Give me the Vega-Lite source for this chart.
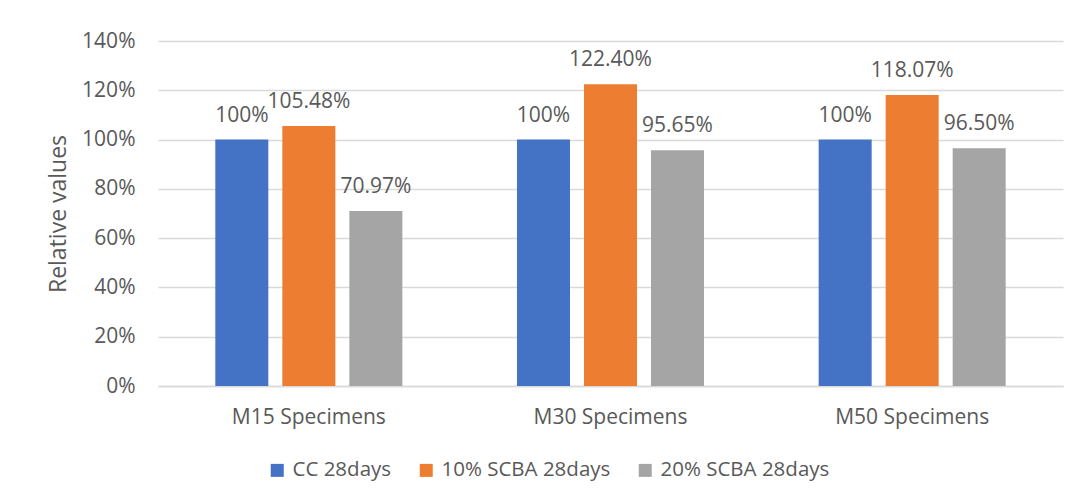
{
  "$schema": "https://vega.github.io/schema/vega-lite/v6.json",
  "width": 905,
  "height": 345,
  "autosize": {"type": "none"},
  "padding": {"left": 158, "top": 41, "right": 18, "bottom": 115},
  "background": "white",
  "config": {
    "font": "Open Sans",
    "view": {"stroke": null},
    "axis": {"labelFont": "Open Sans", "titleFont": "Open Sans", "labelColor": "#595959", "titleColor": "#595959", "labelFontSize": 21, "titleFontSize": 23, "titleFontWeight": "normal"},
    "legend": {"labelFont": "Open Sans", "labelFontSize": 20.5, "labelColor": "#595959", "labelLimit": 0}
  },
  "data": {
    "values": [
      {"group": "M15 Specimens", "series": "CC 28days", "value": 1.0, "label": "100%"},
      {"group": "M15 Specimens", "series": "10% SCBA 28days", "value": 1.0548, "label": "105.48%"},
      {"group": "M15 Specimens", "series": "20% SCBA 28days", "value": 0.7097, "label": "70.97%"},
      {"group": "M30 Specimens", "series": "CC 28days", "value": 1.0, "label": "100%"},
      {"group": "M30 Specimens", "series": "10% SCBA 28days", "value": 1.224, "label": "122.40%"},
      {"group": "M30 Specimens", "series": "20% SCBA 28days", "value": 0.9565, "label": "95.65%"},
      {"group": "M50 Specimens", "series": "CC 28days", "value": 1.0, "label": "100%"},
      {"group": "M50 Specimens", "series": "10% SCBA 28days", "value": 1.1807, "label": "118.07%"},
      {"group": "M50 Specimens", "series": "20% SCBA 28days", "value": 0.965, "label": "96.50%"}
    ]
  },
  "encoding": {
    "x": {
      "field": "group", "type": "nominal",
      "scale": {"paddingInner": 0.38, "paddingOuter": 0.19},
      "axis": {"title": null, "labelAngle": 0, "ticks": false, "domainColor": "#d9d9d9", "domainWidth": 1.5, "labelPadding": 20}
    },
    "xOffset": {
      "field": "series", "type": "nominal",
      "sort": ["CC 28days", "10% SCBA 28days", "20% SCBA 28days"],
      "scale": {"paddingInner": 0.209, "paddingOuter": 0}
    },
    "y": {
      "field": "value", "type": "quantitative",
      "scale": {"domain": [0, 1.4], "nice": false},
      "axis": {"title": "Relative values", "format": ".0%", "values": [0, 0.2, 0.4, 0.6, 0.8, 1.0, 1.2, 1.4], "ticks": false, "domain": false, "gridColor": "#d9d9d9", "gridWidth": 1.5, "labelPadding": 23, "titlePadding": 11}
    }
  },
  "layer": [
    {
      "mark": {"type": "bar"},
      "encoding": {
        "color": {
          "field": "series", "type": "nominal",
          "sort": ["CC 28days", "10% SCBA 28days", "20% SCBA 28days"],
          "scale": {"domain": ["CC 28days", "10% SCBA 28days", "20% SCBA 28days"], "range": ["#4472C4", "#ED7D31", "#A5A5A5"]},
          "legend": {"title": null, "orient": "none", "direction": "horizontal", "legendX": 109, "legendY": 419, "symbolType": "square", "symbolSize": 169, "symbolStrokeWidth": 0, "labelOffset": 5, "columnPadding": 24}
        }
      }
    },
    {
      "mark": {"type": "text", "baseline": "alphabetic", "dy": -18, "fontSize": 21, "color": "#595959", "font": "Open Sans"},
      "encoding": {"text": {"field": "label"}}
    }
  ]
}
